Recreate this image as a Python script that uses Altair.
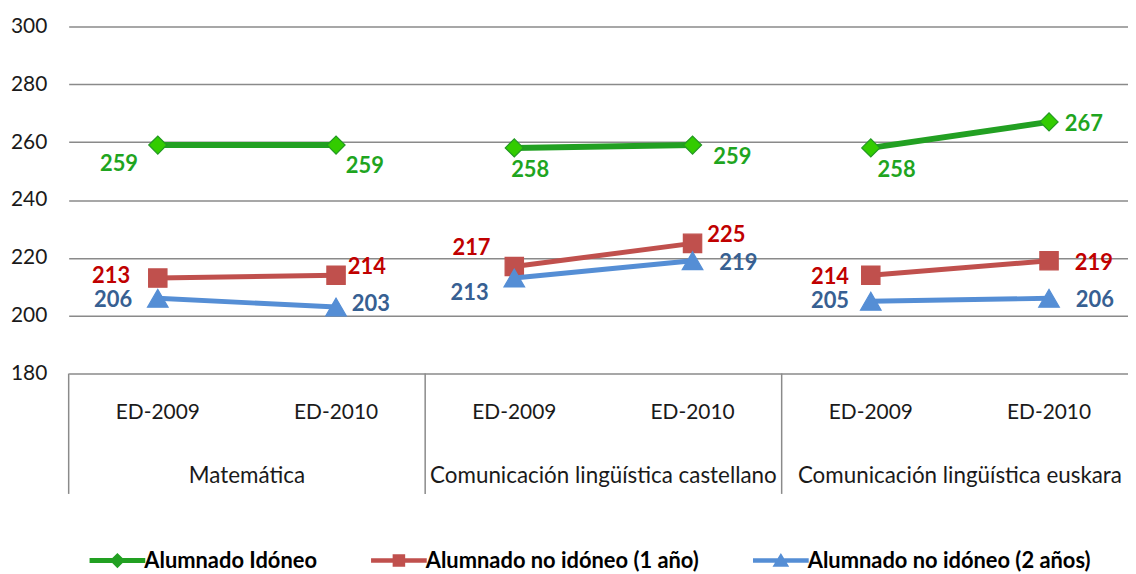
import altair as alt
import pandas as pd

# ---------------- data ----------------
subjects = ["Matemática", "Comunicación lingüística  castellano", "Comunicación lingüística  euskara"]
editions = ["ED-2009", "ED-2010"]
series_names = ["Alumnado Idóneo", "Alumnado no idóneo (1 año)", "Alumnado no idóneo (2 años)"]
idoneo = [259, 259, 258, 259, 258, 267]
no_idoneo_1 = [213, 214, 217, 225, 214, 219]
no_idoneo_2 = [206, 203, 213, 219, 205, 206]
y_ticks = [180, 200, 220, 240, 260, 280, 300]

# ---------------- style ----------------
FONT = "Lato"
line_colors = ["#22A022", "#C0504D", "#558ED5"]
label_colors = ["#1FA51F", "#C00000", "#376092"]
marker_fill = ["#33CC00", "#C0504D", "#558ED5"]
marker_stroke = ["#229922", "#C0504D", "#558ED5"]
shapes = ["diamond", "square", "triangle-up"]
marker_sizes = [330, 340, 430]
line_widths = [6, 5, 5]
label_offsets = [
    [(-39, 19), (29, 21), (16, 22), (40, 12), (26, 22), (35, 2)],
    [(-47, -2), (31, -8), (-43, -19), (34, -8), (-41, 2), (45, 2)],
    [(-45, 2), (35, -3), (-45, 15), (46, 2), (-41, 0), (46, 2)],
]
legend_paths = [
    "M-2,-0.18H2V0.18H-2Z M0,-0.55L0.55,0L0,0.55L-0.55,0Z",
    "M-2,-0.16H2V0.16H-2Z M-0.45,-0.45H0.45V0.45H-0.45Z",
    "M-2,-0.16H2V0.16H-2Z M0,-0.55L0.6,0.45H-0.6Z",
]
grid_color = "#8A8A8A"

PLOT_W, PLOT_H = 1065, 349

# ---------------- tables ----------------
all_series = [idoneo, no_idoneo_1, no_idoneo_2]
rows = []
for si, (name, vals) in enumerate(zip(series_names, all_series)):
    for k, v in enumerate(vals):
        rows.append({
            "series": name, "si": si, "idx": k,
            "subject": subjects[k // 2], "edition": editions[k % 2],
            "score": v, "label": str(v),
        })
df = pd.DataFrame(rows)

ed_df = pd.DataFrame([{"idx": s * 2 + e, "edition": editions[e]}
                      for s in range(len(subjects)) for e in range(len(editions))])
subj_df = pd.DataFrame([{"pos": s * 2 + 0.5, "subject": subjects[s]} for s in range(len(subjects))])
sep_df = pd.DataFrame([{"pos": s * 2 - 0.5} for s in range(len(subjects))])

xscale = alt.Scale(domain=[-0.5, 5.443], nice=False, zero=False)
yscale = alt.Scale(domain=[180, 300], nice=False, zero=False)

X = alt.X("idx:Q", scale=xscale, axis=None)
Y = alt.Y("score:Q", scale=yscale,
          axis=alt.Axis(values=y_ticks, grid=True, domain=False, ticks=False,
                        labelFont=FONT, labelFontSize=21, labelColor="#1a1a1a",
                        labelPadding=22, gridColor=grid_color, gridWidth=1.5, title=None))

layers = []

# axis/grid holder
layers.append(alt.Chart(df).mark_point(opacity=0).encode(x=X, y=Y))

# separators
layers.append(alt.Chart(sep_df).mark_rule(color=grid_color, strokeWidth=1.5).encode(
    x=alt.X("pos:Q", scale=xscale, axis=None),
    y=alt.value(PLOT_H), y2=alt.value(PLOT_H + 121)))

# category labels
layers.append(alt.Chart(ed_df).mark_text(font=FONT, fontSize=21, color="#1a1a1a").encode(
    x=alt.X("idx:Q", scale=xscale, axis=None), y=alt.value(389), text="edition:N"))
layers.append(alt.Chart(subj_df).mark_text(font=FONT, fontSize=22.5, color="#1a1a1a").encode(
    x=alt.X("pos:Q", scale=xscale, axis=None), y=alt.value(452), text="subject:N"))

for si, name in enumerate(series_names):
    sdf = alt.Chart(df).transform_filter(alt.datum.si == si)
    layers.append(sdf.mark_line(color=line_colors[si], strokeWidth=line_widths[si]).encode(
        x=X, y=Y, detail="subject:N"))
    layers.append(sdf.mark_point(filled=True, shape=shapes[si], size=marker_sizes[si],
                                 fill=marker_fill[si], stroke=marker_stroke[si],
                                 strokeWidth=1.2, opacity=1).encode(x=X, y=Y))
    for k in range(len(all_series[si])):
        dx, dy = label_offsets[si][k]
        layers.append(alt.Chart(df).transform_filter(
            (alt.datum.si == si) & (alt.datum.idx == k)).mark_text(
            font=FONT, fontSize=22, fontWeight="bold", color=label_colors[si],
            dx=dx, dy=dy, align="center", baseline="middle").encode(x=X, y=Y, text="label:N"))

# legend
leg = alt.Legend(title=None, orient="none", legendX=35, legendY=523, direction="horizontal",
                 gridAlign="each")
layers.append(alt.Chart(df).transform_filter("false").mark_point(filled=True, opacity=1).encode(
    x=X, y=Y,
    color=alt.Color("series:N", scale=alt.Scale(domain=series_names, range=line_colors), legend=leg),
    shape=alt.Shape("series:N", scale=alt.Scale(domain=series_names, range=legend_paths), legend=leg),
))

chart = alt.layer(*layers).properties(
    width=PLOT_W, height=PLOT_H,
    autosize=alt.AutoSizeParams(type="none"),
    padding={"left": 61, "top": 17, "right": 0, "bottom": 200},
).configure_view(stroke=None).configure_legend(
    padding=0, symbolSize=784, symbolStrokeWidth=0, labelFont=FONT, labelFontSize=22,
    labelFontWeight="bold", labelColor="#000000", labelOffset=13, columnPadding=54,
    symbolOpacity=1, labelLimit=600,
)

chart.save("out.html", embed_options={"renderer": "svg", "actions": False})
